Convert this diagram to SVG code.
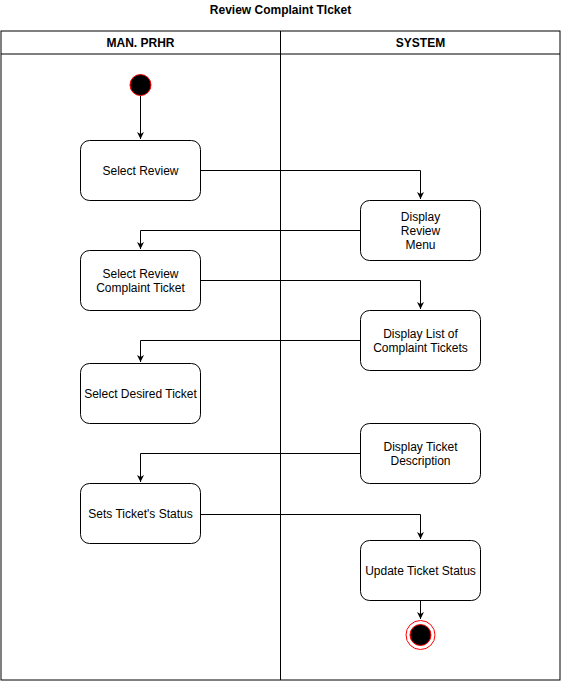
<svg xmlns="http://www.w3.org/2000/svg" width="561" height="681" viewBox="0 0 561 681">
<style>
.t{font-family:"Liberation Sans",Arial,sans-serif;font-size:12px;fill:#000;text-anchor:middle}
.b{font-weight:bold}
.n{fill:#fff;stroke:#000;stroke-width:1}
.c{fill:none;stroke:#000;stroke-width:1}
</style>
<defs>
<marker id="a" markerWidth="8" markerHeight="8" refX="7" refY="4" orient="auto" markerUnits="userSpaceOnUse">
<path d="M0,0.5 L7,4 L0,7.5 L2,4 Z" fill="#000"/>
</marker>
</defs>
<rect width="561" height="681" fill="#fff"/>
<text class="t b" x="280.5" y="14">Review Complaint TIcket</text>
<g id="pool">
<rect x="1" y="31" width="559" height="649" fill="#fff" stroke="#000"/>
<line x1="1" y1="54" x2="560" y2="54" stroke="#000"/>
<line x1="280.5" y1="31" x2="280.5" y2="680" stroke="#000"/>
<text class="t b" x="140.5" y="47">MAN. PRHR</text>
<text class="t b" x="420.5" y="47">SYSTEM</text>
</g>
<g id="connectors">
<path class="c" d="M140.5,96 V139" marker-end="url(#a)"/>
<path class="c" d="M200,170.5 H420.5 V199" marker-end="url(#a)"/>
<path class="c" d="M360,230.5 H140.5 V249" marker-end="url(#a)"/>
<path class="c" d="M200,280.5 H420.5 V309" marker-end="url(#a)"/>
<path class="c" d="M360,340.5 H140.5 V362" marker-end="url(#a)"/>
<path class="c" d="M360,453.5 H140.5 V482" marker-end="url(#a)"/>
<path class="c" d="M200,514.5 H420.5 V539" marker-end="url(#a)"/>
<path class="c" d="M420.5,600 V619" marker-end="url(#a)"/>
</g>
<g id="start"><circle cx="140.5" cy="85" r="10.5" fill="#000" stroke="#ff0000"/></g>
<g id="selectReview"><rect class="n" x="80.5" y="140.5" width="120" height="60" rx="9"/><text class="t" x="140.5" y="175">Select Review</text></g>
<g id="displayReviewMenu"><rect class="n" x="360.5" y="200.5" width="120" height="60" rx="9"/><text class="t" x="420.5" y="221">Display</text><text class="t" x="420.5" y="235">Review</text><text class="t" x="420.5" y="249">Menu</text></g>
<g id="selectReviewComplaint"><rect class="n" x="80.5" y="250.5" width="120" height="60" rx="9"/><text class="t" x="140.5" y="278">Select Review</text><text class="t" x="140.5" y="292">Complaint Ticket</text></g>
<g id="displayList"><rect class="n" x="360.5" y="310.5" width="120" height="60" rx="9"/><text class="t" x="420.5" y="338">Display List of</text><text class="t" x="420.5" y="352">Complaint Tickets</text></g>
<g id="selectDesired"><rect class="n" x="80.5" y="363.5" width="120" height="60" rx="9"/><text class="t" x="140.5" y="398">Select Desired Ticket</text></g>
<g id="displayDesc"><rect class="n" x="360.5" y="423.5" width="120" height="60" rx="9"/><text class="t" x="420.5" y="451">Display Ticket</text><text class="t" x="420.5" y="465">Description</text></g>
<g id="setsStatus"><rect class="n" x="80.5" y="483.5" width="120" height="60" rx="9"/><text class="t" x="140.5" y="518">Sets Ticket's Status</text></g>
<g id="updateStatus"><rect class="n" x="360.5" y="540.5" width="120" height="60" rx="9"/><text class="t" x="420.5" y="575">Update Ticket Status</text></g>
<g id="end"><circle cx="420.5" cy="635" r="14.5" fill="#fff" stroke="#ff0000"/><circle cx="420.5" cy="635" r="10.5" fill="#000" stroke="#ff0000"/></g>
</svg>
